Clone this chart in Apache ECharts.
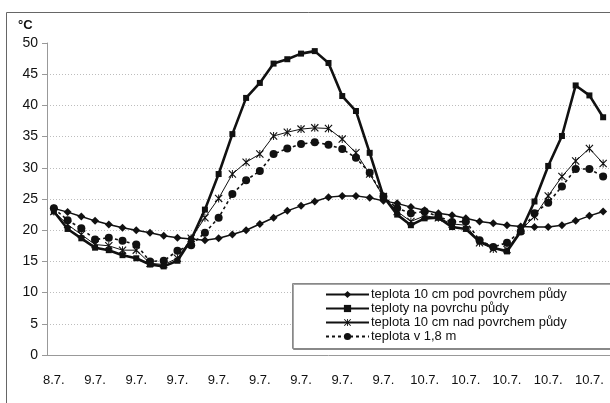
<!DOCTYPE html>
<html>
<head>
<meta charset="utf-8">
<script src="https://cdn.jsdelivr.net/npm/echarts@6/dist/echarts.min.js"></script>
<style>
  html, body { margin: 0; padding: 0; background: #fff; }
  #chart { width: 610px; height: 403px; }
</style>
</head>
<body>
<div id="chart"></div>
<script>
// casove kategorie (po hodinach, popisek jen datum)
var categories = [
  '8.7.', '8.7.', '8.7.',
  '9.7.', '9.7.', '9.7.', '9.7.', '9.7.', '9.7.', '9.7.', '9.7.',
  '9.7.', '9.7.', '9.7.', '9.7.', '9.7.', '9.7.', '9.7.', '9.7.',
  '9.7.', '9.7.', '9.7.', '9.7.', '9.7.', '9.7.', '9.7.', '9.7.',
  '10.7.', '10.7.', '10.7.', '10.7.', '10.7.', '10.7.', '10.7.',
  '10.7.', '10.7.', '10.7.', '10.7.', '10.7.', '10.7.', '10.7.'
];

var seriesNames = [
  'teplota 10 cm pod povrchem půdy',
  'teploty na povrchu půdy',
  'teplota 10 cm nad povrchem půdy',
  'teplota v 1,8 m'
];

var podPovrchem = [23.5, 22.9, 22.2, 21.5, 20.9, 20.4, 20.0, 19.6, 19.1, 18.8,
  18.6, 18.4, 18.7, 19.3, 20.0, 21.0, 22.0, 23.1, 23.9, 24.6,
  25.3, 25.5, 25.5, 25.2, 24.7, 24.3, 23.7, 23.2, 22.7, 22.4,
  21.9, 21.4, 21.1, 20.8, 20.6, 20.5, 20.5, 20.8, 21.5, 22.3, 23.0];

var naPovrchu = [23.0, 20.2, 18.7, 17.2, 16.8, 16.0, 15.5, 14.5, 14.2, 15.1,
  18.5, 23.3, 29.0, 35.4, 41.2, 43.6, 46.7, 47.4, 48.3, 48.7,
  46.8, 41.5, 39.1, 32.4, 25.4, 22.5, 20.8, 21.9, 22.0, 20.5,
  20.2, 18.2, 17.2, 16.6, 19.8, 24.6, 30.3, 35.1, 43.2, 41.6, 38.1];

var nadPovrchem = [23.0, 20.9, 19.3, 17.7, 17.5, 16.8, 16.8, 14.7, 14.5, 15.5,
  18.7, 22.0, 25.1, 29.0, 30.9, 32.2, 35.1, 35.7, 36.2, 36.4,
  36.3, 34.6, 32.4, 29.0, 25.4, 23.0, 21.4, 22.3, 22.0, 21.0,
  20.8, 18.0, 17.0, 16.9, 20.0, 22.2, 25.5, 28.6, 31.1, 33.1, 30.7];

var vyska18 = [23.5, 21.6, 20.3, 18.5, 18.8, 18.3, 17.7, 15.0, 15.1, 16.7,
  17.6, 19.6, 22.0, 25.8, 28.0, 29.5, 32.2, 33.1, 33.8, 34.1,
  33.7, 33.0, 31.6, 29.2, 25.4, 23.5, 22.7, 23.0, 22.2, 21.3,
  21.4, 18.4, 17.3, 18.0, 19.8, 22.7, 24.4, 27.0, 29.8, 29.8, 28.6];

var yTicks = [0, 5, 10, 15, 20, 25, 30, 35, 40, 45, 50];

var font = 'Liberation Sans, Arial, sans-serif';
var starIcon = 'path://M0,1L1,0L10,9L9,10Z M9,0L10,1L1,10L0,9Z M4.4,0L5.6,0L5.6,10L4.4,10Z';

var chart = echarts.init(document.getElementById('chart'));

var gridColors = yTicks.map(function (v) {
  return (v === 0 || v === 50) ? 'rgba(0,0,0,0)' : '#bdbdbd';
});

var option = {
  animation: false,
  backgroundColor: '#fff',
  textStyle: { fontFamily: font },
  title: {
    text: '°C',
    left: 13,
    top: 14,
    textStyle: { fontSize: 13, fontWeight: 'bold', color: '#111', fontFamily: font }
  },
  graphic: [
    {
      type: 'rect',
      shape: { x: 6.5, y: 12.5, width: 640, height: 440 },
      style: { fill: 'none', stroke: '#666', lineWidth: 1 },
      silent: true,
      z: -1
    },
    {
      type: 'rect',
      shape: { x: 292.5, y: 283.5, width: 330, height: 65 },
      style: { fill: '#fff', stroke: '#888', lineWidth: 1, shadowColor: 'rgba(0,0,0,0.35)', shadowOffsetX: 1, shadowOffsetY: 1 },
      silent: true,
      z: 5
    }
  ],
  grid: {
    left: 47,
    top: 43,
    width: 564,
    height: 312
  },
  legend: {
    orient: 'vertical',
    left: 325,
    top: 288,
    itemWidth: 43,
    itemHeight: 9,
    itemGap: 1,
    padding: 0,
    z: 10,
    textStyle: { fontSize: 13, lineHeight: 13, color: '#111', fontFamily: font, padding: [0, 0, 0, -3] },
    data: seriesNames
  },
  xAxis: {
    type: 'category',
    data: categories,
    boundaryGap: true,
    axisLine: { lineStyle: { color: '#999', width: 1 } },
    axisTick: { interval: 0, length: 4, lineStyle: { color: '#999' } },
    axisLabel: { interval: 2, margin: 19, fontSize: 13, color: '#111', fontFamily: font },
    splitLine: { show: false }
  },
  yAxis: {
    type: 'value',
    min: 0,
    max: 50,
    interval: 5,
    axisLine: { show: true, lineStyle: { color: '#999', width: 1 } },
    axisTick: { show: true, length: 5, lineStyle: { color: '#999' } },
    axisLabel: { fontSize: 14, color: '#111', margin: 9, fontFamily: font },
    splitLine: { show: true, lineStyle: { color: gridColors, type: [1, 2], width: 1 } }
  },
  series: [
    {
      name: seriesNames[0],
      type: 'line',
      data: podPovrchem,
      symbol: 'diamond',
      symbolSize: 8,
      lineStyle: { color: '#111', width: 1.5 },
      itemStyle: { color: '#111' },
      z: 3
    },
    {
      name: seriesNames[1],
      type: 'line',
      data: naPovrchu,
      symbol: 'rect',
      symbolSize: 6,
      lineStyle: { color: '#111', width: 2.6 },
      itemStyle: { color: '#111' },
      z: 4
    },
    {
      name: seriesNames[2],
      type: 'line',
      data: nadPovrchem,
      symbol: starIcon,
      symbolSize: 8,
      lineStyle: { color: '#111', width: 1 },
      itemStyle: { color: '#111' },
      z: 3
    },
    {
      name: seriesNames[3],
      type: 'line',
      data: vyska18,
      symbol: 'circle',
      symbolSize: 8,
      lineStyle: { color: '#111', width: 1.6, type: [3, 3] },
      itemStyle: { color: '#111' },
      z: 2
    }
  ]
};

chart.setOption(option);
</script>
</body>
</html>
